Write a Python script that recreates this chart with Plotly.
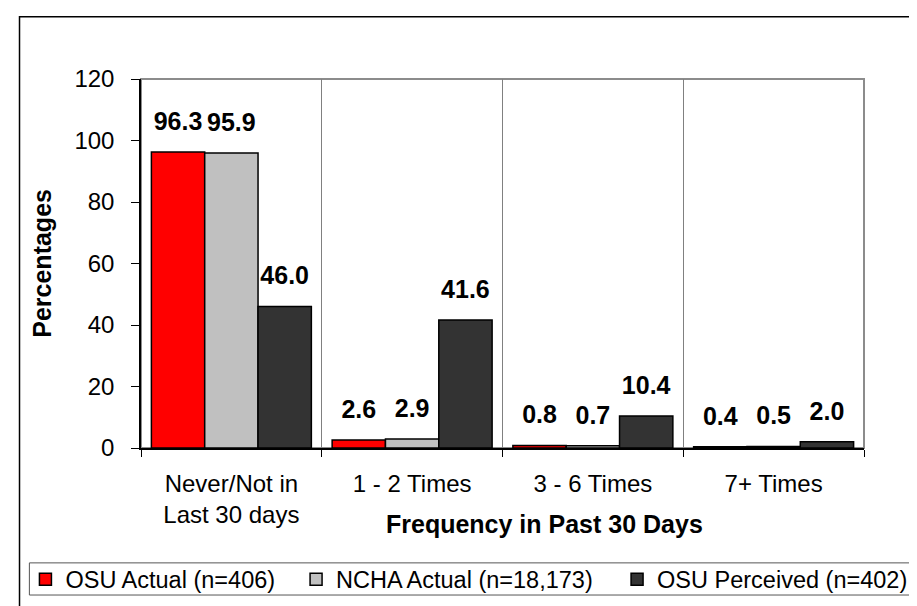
import plotly.graph_objects as go

categories = ["Never/Not in<br>Last 30 days", "1 - 2 Times", "3 - 6 Times", "7+ Times"]
osu_actual = [96.3, 2.6, 0.8, 0.4]
ncha_actual = [95.9, 2.9, 0.7, 0.5]
osu_perceived = [46.0, 41.6, 10.4, 2.0]

series = [
    ("OSU Actual (n=406)", osu_actual, "#ff0000"),
    ("NCHA Actual (n=18,173)", ncha_actual, "#c0c0c0"),
    ("OSU Perceived (n=402)", osu_perceived, "#333333"),
]

FONT = "Liberation Sans, Arial, sans-serif"
W, H = 917, 606
L, R, T, B = 133, 52, 71, 156
pw, ph = W - L - R, H - T - B


def px_x(x):
    return (x - L) / pw


def px_y(y):
    return (H - B - y) / ph


legend_ids = ["legend", "legend2", "legend3"]
legend_left = [16, 290, 615]  # pixel x of each legend entry (Excel spaces them by text width)

fig = go.Figure()
for i, (name, vals, color) in enumerate(series):
    fig.add_bar(
        name=name, x=categories, y=vals, offsetgroup=str(i), legend=legend_ids[i],
        marker=dict(color=color, line=dict(color="black", width=1.5)),
    )
for i, (name, vals, color) in enumerate(series):
    # value labels, grouped like the bars, lifted above the bar tops
    fig.add_scatter(
        x=categories, y=vals, offsetgroup=str(i), mode="markers+text",
        text=[f"{v:.1f}" for v in vals], textposition="top center",
        textfont=dict(family=FONT, size=25, color="black", weight="bold"),
        marker=dict(size=24, color="rgba(0,0,0,0)"),
        showlegend=False, hoverinfo="skip", cliponaxis=False,
    )

legend_style = dict(
    orientation="h", y=px_y(585), xanchor="left", yanchor="middle",
    font=dict(size=23.5, color="black"), bgcolor="rgba(0,0,0,0)",
)
legends = {lid: dict(legend_style, x=px_x(xx)) for lid, xx in zip(legend_ids, legend_left)}

fig.update_layout(
    width=W, height=H,
    margin=dict(l=L, r=R, t=T, b=B),
    paper_bgcolor="white", plot_bgcolor="white",
    barmode="group", bargap=0.115, bargroupgap=0,
    scattermode="group", scattergap=0.115,
    font=dict(family=FONT, color="black"),
    showlegend=True,
    **legends,
    xaxis=dict(
        type="category", tickson="boundaries", showgrid=True, gridcolor="#808080", gridwidth=1,
        showline=True, linecolor="black", linewidth=1.5,
        ticks="outside", ticklen=7, tickcolor="black",
        tickfont=dict(size=24, color="black"), ticklabelstandoff=13,
    ),
    yaxis=dict(
        range=[0, 120], dtick=20, showgrid=False, zeroline=False,
        showline=True, linecolor="black", linewidth=1.5,
        ticks="outside", ticklen=8, tickcolor="black",
        tickfont=dict(size=24, color="black"), ticklabelstandoff=12,
    ),
    shapes=[
        # plot frame (gray top/right)
        dict(type="rect", xref="paper", yref="paper", x0=0, x1=1, y0=0, y1=1,
             line=dict(color="#8c8c8c", width=2), layer="below"),
        # outer chart border
        dict(type="rect", xref="paper", yref="paper", x0=px_x(10), x1=px_x(930),
             y0=px_y(615), y1=px_y(7), line=dict(color="black", width=1.5)),
        # legend box
        dict(type="rect", xref="paper", yref="paper", x0=px_x(20), x1=px_x(930),
             y0=px_y(601), y1=px_y(568), line=dict(color="#555555", width=1)),
    ],
    annotations=[
        dict(text="<b>Percentages</b>", textangle=-90, xref="paper", yref="paper",
             x=px_x(32), y=0.5, xanchor="center", yanchor="middle", showarrow=False,
             font=dict(size=25, color="black")),
        dict(text="<b>Frequency in Past 30 Days</b>", xref="paper", yref="paper",
             x=px_x(542), y=px_y(528), xanchor="center", yanchor="middle", showarrow=False,
             font=dict(size=25, color="black")),
    ],
)

fig.write_html("out.html")
